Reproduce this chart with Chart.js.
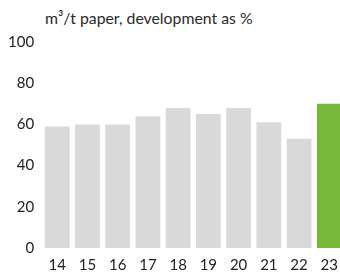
<!DOCTYPE html>
<html>
<head>
<meta charset="utf-8">
<script src="https://cdn.jsdelivr.net/npm/chart.js@4"></script>
<style>
  html, body { margin: 0; padding: 0; background: #fff; overflow: hidden; }
  body { width: 340px; height: 274px; position: relative; }
  #title {
    position: absolute; left: 45px; top: 8px;
    font: 15.8px Lato, sans-serif; color: #2a2a2a; white-space: nowrap;
  }
  #wrap { position: absolute; left: 0; top: 0; width: 346px; height: 274px; }
</style>
</head>
<body>
<div id="title">m³/t paper, development as %</div>
<div id="wrap"><canvas id="chart"></canvas></div>
<script>
const years = ['14', '15', '16', '17', '18', '19', '20', '21', '22', '23']
const values = [59, 60, 60, 64, 68, 65, 68, 61, 53, 70]
const barColors = years.map((y, i) => (i === years.length - 1 ? '#77b83a' : '#d9d9d9'))

new Chart(document.getElementById('chart'), {
  type: 'bar',
  data: {
    labels: years,
    datasets: [{ data: values, backgroundColor: barColors, barPercentage: 0.82, categoryPercentage: 1 }]
  },
  options: {
    responsive: true,
    maintainAspectRatio: false,
    animation: false,
    layout: { padding: { top: 42, left: 0, right: 0, bottom: 0 } },
    plugins: { legend: { display: false }, tooltip: { enabled: false } },
    scales: {
      y: {
        min: 0,
        max: 100,
        ticks: { stepSize: 20, color: '#222', font: { family: 'Lato', size: 15 }, padding: 8 },
        grid: { display: false, drawTicks: false },
        border: { display: false }
      },
      x: {
        ticks: { color: '#222', font: { family: 'Lato', size: 15 }, padding: 8 },
        grid: { display: false, drawTicks: false },
        border: { display: false },
        afterFit: (scale) => { scale.height = 26 }
      }
    }
  }
})
</script>
</body>
</html>
